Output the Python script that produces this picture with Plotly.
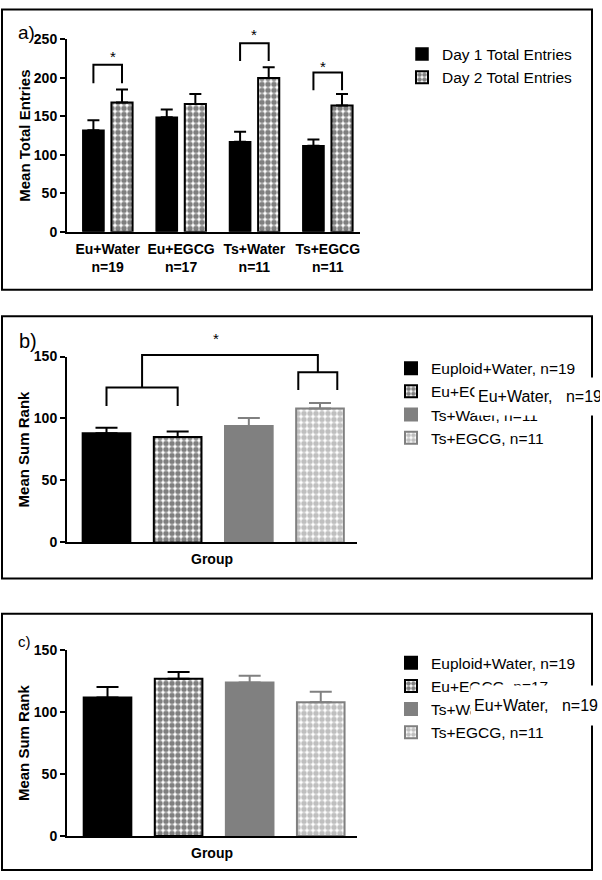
import plotly.graph_objects as go

W, H = 602, 880
FONT = "Liberation Sans, Arial, sans-serif"

# ---------------- data ----------------
groups_a = ["Eu+Water", "Eu+EGCG", "Ts+Water", "Ts+EGCG"]
n_a = ["n=19", "n=17", "n=11", "n=11"]
day1_mean = [132, 149, 117, 112]
day1_sem = [13, 10, 13, 8]
day2_mean = [168, 166, 200, 164]
day2_sem = [17, 13, 14, 15]

groups_bc = ["Euploid+Water, n=19", "Eu+EGCG, n=17", "Ts+Water, n=11", "Ts+EGCG, n=11"]
b_mean = [88, 85, 94, 108]
b_sem = [4.5, 4.5, 6.5, 4.5]
c_mean = [112, 127, 124, 108]
c_sem = [8.5, 5.5, 5.5, 8.5]

# ---------------- style ----------------
GRAY = "#808080"
bc_color = ["black", "white", GRAY, "white"]
bc_line = ["black", "black", GRAY, GRAY]
bc_pattern = ["", ".", "", "."]
bc_fg = ["black", "black", GRAY, GRAY]
PAT_SIZE, PAT_SOL = 6, 0.65

def px(x):
    return x / W

def py(y):
    return 1 - y / H

ra_x = [-0.555, 3.44]
ra_y = [0, 250]
rb_x = [-0.555, 3.52]
rb_y = [0, 150]
rc_x = [-0.57, 3.51]
rc_y = [0, 150]

def fr(v, r):
    return (v - r[0]) / (r[1] - r[0])

fig = go.Figure()

# Panel a
fig.add_trace(go.Bar(
    x=list(range(4)), y=day1_mean, name="Day 1 Total Entries",
    marker=dict(color="black", line=dict(color="black", width=1.5)),
    error_y=dict(type="data", array=day1_sem, arrayminus=[0] * 4, symmetric=False,
                 color="black", thickness=2, width=6),
    xaxis="x", yaxis="y", legend="legend", offsetgroup="d1"))
fig.add_trace(go.Bar(
    x=list(range(4)), y=day2_mean, name="Day 2 Total Entries",
    marker=dict(color="white", line=dict(color="black", width=2),
                pattern=dict(shape=".", fgcolor="black", bgcolor="white", size=PAT_SIZE, solidity=PAT_SOL)),
    error_y=dict(type="data", array=day2_sem, arrayminus=[0] * 4, symmetric=False,
                 color="black", thickness=2, width=6),
    xaxis="x", yaxis="y", legend="legend", offsetgroup="d2"))

# Panels b and c
for vals, sems, ax, lg in [(b_mean, b_sem, "2", "legend2"), (c_mean, c_sem, "3", "legend3")]:
    for i, name in enumerate(groups_bc):
        pat = dict(shape=bc_pattern[i], fgcolor=bc_fg[i], bgcolor="white", size=PAT_SIZE, solidity=PAT_SOL) \
            if bc_pattern[i] else dict(shape="")
        fig.add_trace(go.Bar(
            x=[i], y=[vals[i]], name=name, width=0.67,
            marker=dict(color=bc_color[i], line=dict(color=bc_line[i], width=2), pattern=pat),
            error_y=dict(type="data", array=[sems[i]], arrayminus=[0], symmetric=False,
                         color=bc_line[i], thickness=2, width=11),
            xaxis="x" + ax, yaxis="y" + ax, legend=lg, offsetgroup="g" + ax))

tickfont = dict(family=FONT, size=14, color="black", weight="bold")
titlefont = dict(family=FONT, size=15, color="black", weight="bold")

def yax(dom, rng, title, dtick, standoff):
    return dict(domain=dom, range=rng, tickvals=list(range(0, rng[1] + 1, dtick)),
                ticks="outside", ticklen=5, tickwidth=2, tickcolor="black",
                showline=True, linecolor="black", linewidth=2, showgrid=False, zeroline=False,
                tickfont=tickfont, title=dict(text=title, font=titlefont, standoff=standoff),
                fixedrange=True)

legfont = dict(family=FONT, size=15.5, color="black")
groupfont = dict(family=FONT, size=14, color="black", weight="bold")

layout = dict(
    width=W, height=H, margin=dict(l=0, r=0, t=0, b=0),
    paper_bgcolor="white", plot_bgcolor="white",
    barmode="group", bargap=0.22, bargroupgap=0.26,
    font=dict(family=FONT, color="black"),
    xaxis=dict(domain=[px(67), px(360)], range=ra_x, anchor="y",
               tickvals=list(range(4)),
               ticktext=[f"{g}<br>{n}" for g, n in zip(groups_a, n_a)],
               ticks="outside", ticklen=3, tickcolor="rgba(0,0,0,0)",
               showline=True, linecolor="black", linewidth=2, showgrid=False, zeroline=False,
               tickfont=tickfont, fixedrange=True),
    yaxis=yax([py(228), py(32)], ra_y, "Mean Total Entries", 50, 0) | dict(anchor="x"),
    xaxis2=dict(domain=[px(67), px(357)], range=rb_x, anchor="y2",
                showticklabels=False, ticks="", showline=True, linecolor="black", linewidth=2,
                showgrid=False, zeroline=False, fixedrange=True,
                title=dict(text="Group", font=groupfont, standoff=11)),
    yaxis2=yax([py(544.3), py(355)], rb_y, "Mean Sum Rank", 50, 1) | dict(anchor="x2"),
    xaxis3=dict(domain=[px(67), px(357)], range=rc_x, anchor="y3",
                showticklabels=False, ticks="", showline=True, linecolor="black", linewidth=2,
                showgrid=False, zeroline=False, fixedrange=True,
                title=dict(text="Group", font=groupfont, standoff=11)),
    yaxis3=yax([py(843.3), py(654.3)], rc_y, "Mean Sum Rank", 50, 1) | dict(anchor="x3"),
    legend=dict(x=px(402), y=py(30), xanchor="left", yanchor="top",
                font=legfont, bgcolor="rgba(0,0,0,0)"),
    legend2=dict(x=px(391), y=py(350), xanchor="left", yanchor="top",
                 font=legfont, bgcolor="rgba(0,0,0,0)"),
    legend3=dict(x=px(391), y=py(650), xanchor="left", yanchor="top",
                 font=legfont, bgcolor="rgba(0,0,0,0)"),
)
fig.update_layout(**layout)

shapes = []
# panel borders
for y0, y1 in [(1.5, 287), (314, 581), (617, 878)]:
    shapes.append(dict(type="rect", xref="paper", yref="paper", x0=px(2), x1=px(592),
                       y0=py(y1), y1=py(y0), line=dict(color="black", width=2), layer="below"))

annotations = []
BLK = dict(color="black", width=2)

# panel a significance brackets (group index, top, bottom, star)
sig_a = [(0, 217, 193, 230), (2, 245, 222, 259), (3, 207, 184, 218)]
off = 0.195
for g, top, bot, star in sig_a:
    xa, xb = fr(g - off, ra_x), fr(g + off, ra_x)
    yt, yb = fr(top, ra_y), fr(bot, ra_y)
    shapes.append(dict(type="path", xref="x domain", yref="y domain",
                       path=f"M{xa},{yb} L{xa},{yt} L{xb},{yt} L{xb},{yb}", line=BLK))
    annotations.append(dict(text="*", xref="x domain", yref="y domain", x=fr(g, ra_x),
                            y=fr(star, ra_y), yanchor="middle", yshift=-2, showarrow=False,
                            font=dict(family=FONT, size=15, color="black")))

# panel b brackets
def pb(x, y):
    return f"{fr(x, rb_x)},{fr(y, rb_y)}"

shapes.append(dict(type="path", xref="x2 domain", yref="y2 domain",
                   path=f"M{pb(0, 110)} L{pb(0, 125)} L{pb(1, 125)} L{pb(1, 110)}", line=BLK))
shapes.append(dict(type="path", xref="x2 domain", yref="y2 domain",
                   path=f"M{pb(2.695, 123)} L{pb(2.695, 137.3)} L{pb(3.243, 137.3)} L{pb(3.243, 123)}", line=BLK))
shapes.append(dict(type="path", xref="x2 domain", yref="y2 domain",
                   path=f"M{pb(0.5, 125)} L{pb(0.5, 151.3)} L{pb(2.97, 151.3)} L{pb(2.97, 137.3)}", line=BLK))
annotations.append(dict(text="*", xref="x2 domain", yref="y2 domain", x=fr(1.545, rb_x),
                        y=fr(166, rb_y), yanchor="middle", yshift=-2, showarrow=False,
                        font=dict(family=FONT, size=15, color="black")))

# panel labels
for txt, xx, yy, sz in [("a)", 16, 25, 19), ("b)", 17, 339, 20), ("c)", 16, 645, 15)]:
    annotations.append(dict(text=txt, xref="paper", yref="paper", x=px(xx), y=py(yy),
                            xanchor="left", yanchor="middle", showarrow=False,
                            font=dict(family=FONT, size=sz, color="black")))

# overlaid text boxes
for x0, y0, w, h in [(474, 376, 128, 37), (470, 690, 132, 39)]:
    annotations.append(dict(text="Eu+Water,\u00a0\u00a0\u00a0n=19", xref="paper", yref="paper",
                            x=px(x0), y=py(y0), xanchor="left", yanchor="top",
                            width=w - 6, height=h - 6, borderpad=3, bgcolor="white",
                            align="left", valign="middle", showarrow=False,
                            font=dict(family=FONT, size=16, color="black")))

fig.update_layout(shapes=shapes, annotations=annotations)

post = "document.documentElement.style.margin='0';document.body.style.margin='0';"
fig.write_html("out.html", config={"displayModeBar": False}, post_script=post)
